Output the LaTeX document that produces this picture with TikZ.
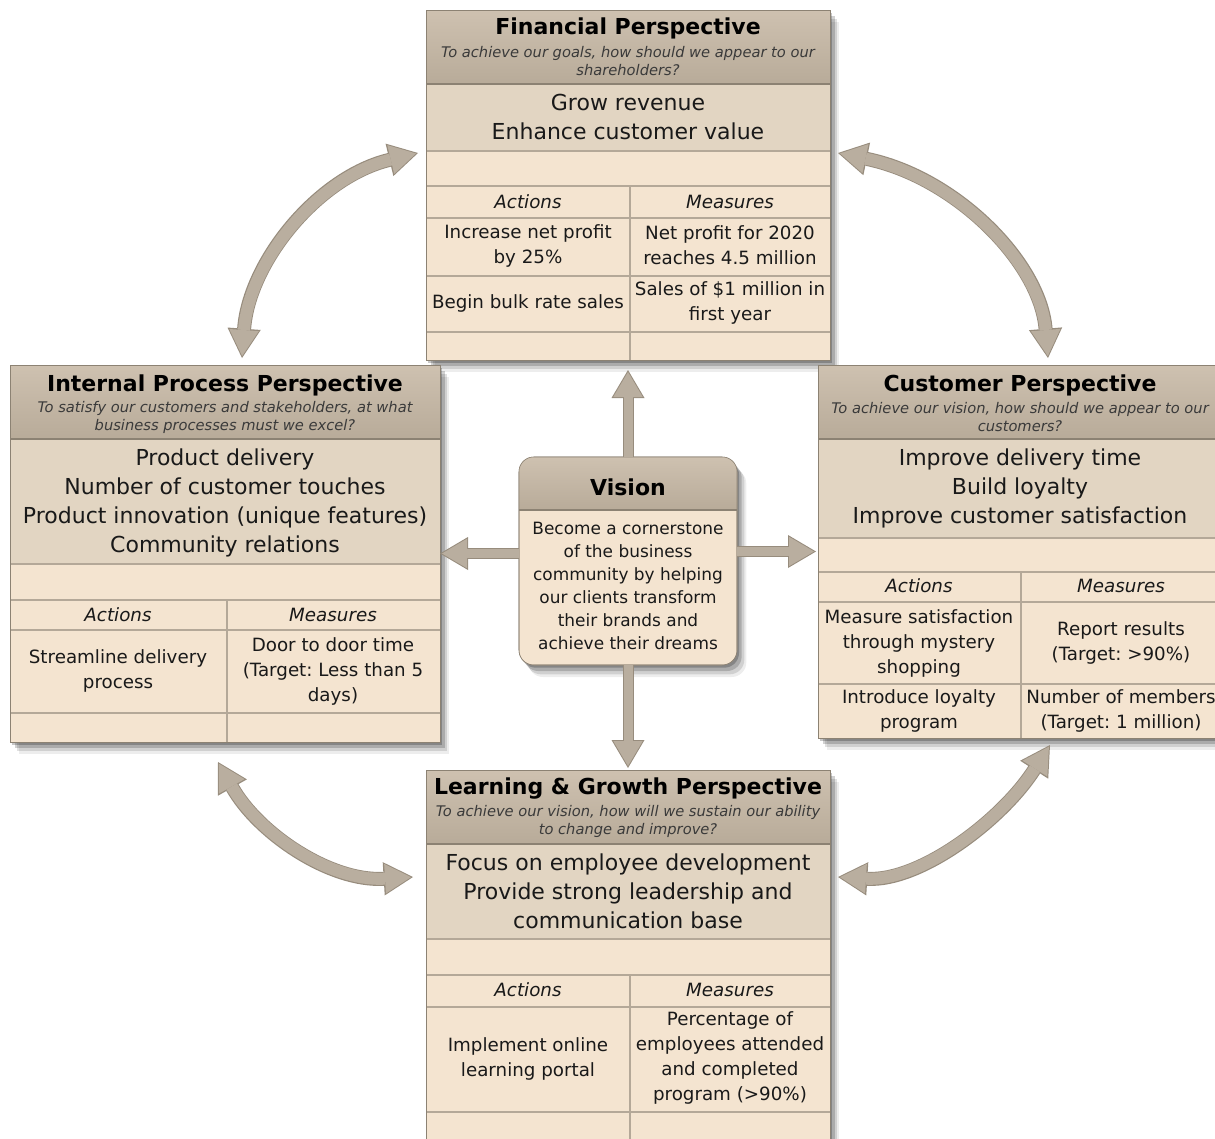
\documentclass[tikz,border=0pt]{standalone}
\usepackage{fontspec}
\setmainfont{DejaVu Sans}
\usetikzlibrary{arrows.meta,shadows,fit}
\frenchspacing

\definecolor{hdtop}{HTML}{CEC1B0}
\definecolor{hdbot}{HTML}{B8AB99}
\definecolor{goalbg}{HTML}{E2D5C2}
\definecolor{cellbg}{HTML}{F4E4D0}
\definecolor{gridcol}{HTML}{B4A898}
\definecolor{framecol}{HTML}{8C8273}
\definecolor{arrfill}{HTML}{B9AE9F}
\definecolor{arrline}{HTML}{978C7D}
\definecolor{subcol}{HTML}{3A3A3A}

\begin{document}
\begin{tikzpicture}[x=0.75pt,y=-0.75pt,
		soft/.style={drop shadow={shadow xshift=1.5pt,shadow yshift=-2pt,opacity=.22,fill=black},
			drop shadow={shadow xshift=3.5pt,shadow yshift=-4.5pt,opacity=.18,fill=black},
			drop shadow={shadow xshift=5.5pt,shadow yshift=-7pt,opacity=.12,fill=black},
			drop shadow={shadow xshift=7pt,shadow yshift=-9pt,opacity=.07,fill=black}},
		pbox/.style={draw=framecol,fill=cellbg,inner sep=0pt,outer sep=0pt,soft},
		vbox/.style={pbox,rounded corners=11pt},
		hdfill/.style={top color=hdtop,bottom color=hdbot},
		hdline/.style={draw=framecol,line width=1.2pt},
		gridln/.style={draw=gridcol,line width=1.4pt},
		ttl/.style={font=\fontsize{16.5}{20}\selectfont\bfseries},
		sub/.style={font=\fontsize{11}{13.5}\selectfont\itshape,text=subcol,align=center,inner sep=1pt},
		goal/.style={font=\fontsize{16.5}{21.75}\selectfont,align=center,text=black!90,inner sep=1pt},
		cell/.style={font=\fontsize{13.7}{18.75}\selectfont,align=center,text=black!90,inner sep=1pt},
		colhd/.style={cell,font=\fontsize{13.7}{18.75}\selectfont\itshape},
		vtxt/.style={font=\fontsize{12.7}{17.25}\selectfont,align=center,text=black!90},
		sbg/.style={draw=arrline,line width=8.25pt,arrows={-Triangle[width=24.75pt,length=21pt,line width'=0pt]}},
		sfg/.style={draw=arrfill,line width=6.75pt,arrows={-Triangle[width=22.1pt,length=18.75pt,line width'=0pt]}},
		cbg/.style={draw=arrline,line width=10.5pt,
			arrows={Triangle[width=25pt,length=22pt,line width'=0pt]-Triangle[width=25pt,length=22pt,line width'=0pt]}},
		cfg/.style={draw=arrfill,line width=9pt,shorten <=1.5pt,shorten >=1.5pt,
			arrows={Triangle[width=22.2pt,length=19.5pt,line width'=0pt]-Triangle[width=22.2pt,length=19.5pt,line width'=0pt]}}]

		\useasboundingbox (0,0) rectangle (1215,1139);

		% financial
		\node[pbox,fit={(426,10) (830,360)}] (fin) {};
		\shade[hdfill] (426,10) rectangle (830,84);
		\fill[goalbg] (426,84) rectangle (830,151);
		\draw[hdline] (426,84) -- (830,84);
		\foreach \y in {151,186,218,276,332} { \draw[gridln] (426,\y) -- (830,\y);}
		\draw[gridln] (630,186) -- (630,360);
		\draw[framecol] (fin.north west) rectangle (fin.south east);
		\node[ttl] (fin-t) at (628,28) {Financial Perspective};
		\node[sub] (fin-s) at (628,61) {To achieve our goals, how should we appear to our\\shareholders?};
		\node[goal] (fin-g) at (628,117) {Grow revenue\\Enhance customer value};
		\node[colhd] (fin-a) at (528,202) {Actions};
		\node[colhd] (fin-m) at (730,202) {Measures};
		\node[cell] (fin-a1) at (528,246) {Increase net profit\\by 25\%};
		\node[cell] (fin-m1) at (730,245) {Net profit for 2020\\reaches 4.5 million};
		\node[cell] (fin-a2) at (528,303) {Begin bulk rate sales};
		\node[cell] (fin-m2) at (730,303) {Sales of \$1 million in\\first year};

		% internal process
		\node[pbox,fit={(10,365) (440,742)}] (int) {};
		\shade[hdfill] (10,365) rectangle (440,439);
		\fill[goalbg] (10,439) rectangle (440,564);
		\draw[hdline] (10,439) -- (440,439);
		\foreach \y in {564,600,630,713} { \draw[gridln] (10,\y) -- (440,\y);}
		\draw[gridln] (227,600) -- (227,742);
		\draw[framecol] (int.north west) rectangle (int.south east);
		\node[ttl] (int-t) at (225,385) {Internal Process Perspective};
		\node[sub] (int-s) at (225,417) {To satisfy our customers and stakeholders, at what\\business processes must we excel?};
		\node[goal] (int-g) at (225,503) {Product delivery\\Number of customer touches\\Product innovation (unique features)\\Community relations};
		\node[colhd] (int-a) at (118,615) {Actions};
		\node[colhd] (int-m) at (333,615) {Measures};
		\node[cell] (int-a1) at (118,671) {Streamline delivery\\process};
		\node[cell] (int-m1) at (333,671) {Door to door time\\(Target: Less than 5\\days)};

		% customer
		\node[pbox,fit={(818,365) (1222,738)}] (cus) {};
		\shade[hdfill] (818,365) rectangle (1222,439);
		\fill[goalbg] (818,439) rectangle (1222,538);
		\draw[hdline] (818,439) -- (1222,439);
		\foreach \y in {538,572,602,684} { \draw[gridln] (818,\y) -- (1222,\y);}
		\draw[gridln] (1021,572) -- (1021,738);
		\draw[framecol] (cus.north west) rectangle (cus.south east);
		\node[ttl] (cus-t) at (1020,385) {Customer Perspective};
		\node[sub] (cus-s) at (1020,417) {To achieve our vision, how should we appear to our\\customers?};
		\node[goal] (cus-g) at (1020,488) {Improve delivery time\\Build loyalty\\Improve customer satisfaction};
		\node[colhd] (cus-a) at (919,586) {Actions};
		\node[colhd] (cus-m) at (1121,586) {Measures};
		\node[cell] (cus-a1) at (919,643) {Measure satisfaction\\through mystery\\shopping};
		\node[cell] (cus-m1) at (1121,643) {Report results\\(Target: >90\%)};
		\node[cell] (cus-a2) at (919,711) {Introduce loyalty\\program};
		\node[cell] (cus-m2) at (1121,711) {Number of members\\(Target: 1 million)};

		% learning and growth
		\node[pbox,fit={(426,770) (830,1150)}] (lrn) {};
		\shade[hdfill] (426,770) rectangle (830,844);
		\fill[goalbg] (426,844) rectangle (830,939);
		\draw[hdline] (426,844) -- (830,844);
		\foreach \y in {939,975,1007,1112} { \draw[gridln] (426,\y) -- (830,\y);}
		\draw[gridln] (630,975) -- (630,1150);
		\draw[framecol] (lrn.north west) rectangle (lrn.south east);
		\node[ttl] (lrn-t) at (628,789) {Learning \& Growth Perspective};
		\node[sub] (lrn-s) at (628,821) {To achieve our vision, how will we sustain our ability\\to change and improve?};
		\node[goal] (lrn-g) at (628,891) {Focus on employee development\\Provide strong leadership and\\communication base};
		\node[colhd] (lrn-a) at (528,990) {Actions};
		\node[colhd] (lrn-m) at (730,990) {Measures};
		\node[cell] (lrn-a1) at (528,1059) {Implement online\\learning portal};
		\node[cell] (lrn-m1) at (730,1058) {Percentage of\\employees attended\\and completed\\program (>90\%)};

		% vision
		\node[vbox,fit={(519,457) (737,665)}] (vis) {};
		\begin{scope}
			\clip[rounded corners=11pt] (519,457) rectangle (737,665);
			\shade[hdfill] (519,457) rectangle (737,510);
		\end{scope}
		\draw[hdline] (519,510) -- (737,510);
		\draw[framecol,rounded corners=11pt] (vis.north west) rectangle (vis.south east);
		\node[ttl] (vis-t) at (628,487) {Vision};
		\node[vtxt] (vis-b) at (628,586) {Become a cornerstone\\of the business\\community by helping\\our clients transform\\their brands and\\achieve their dreams};

		% straight arrows out of the vision
		\coordinate (vl) at (int.east -| vis.west);
		\coordinate (vr) at (cus.west -| vis.east);
		\foreach \a/\b/\s in {vis.north/fin.south/7.5,vis.south/lrn.north/1.5,vl/int.east/0,vr/cus.west/1.5} {
			\draw[sbg,shorten >=\s pt] (\a) -- (\b);
			\draw[sfg,shorten >=\s pt+1.5pt] (\a) -- (\b);
		}

		% curved arrows between the perspectives
		\coordinate (tl-a) at (242,358);
		\coordinate (tl-b) at (418,153);
		\coordinate (tr-a) at (838,153);
		\coordinate (tr-b) at (1048,358);
		\coordinate (bl-a) at (218,762);
		\coordinate (bl-b) at (413,877);
		\coordinate (br-a) at (838,877);
		\coordinate (br-b) at (1050,745);
		\foreach \a/\xa/\ya/\xb/\yb/\b in {tl-a/249/262/318/177/tl-b,tr-a/955/177/1040/262/tr-b,bl-a/258/833/330/882/bl-b,br-a/920/882/1002/820/br-b} {
			\draw[cbg] (\a) .. controls (\xa,\ya) and (\xb,\yb) .. (\b);
			\draw[cfg] (\a) .. controls (\xa,\ya) and (\xb,\yb) .. (\b);
		}
	\end{tikzpicture}
\end{document}
